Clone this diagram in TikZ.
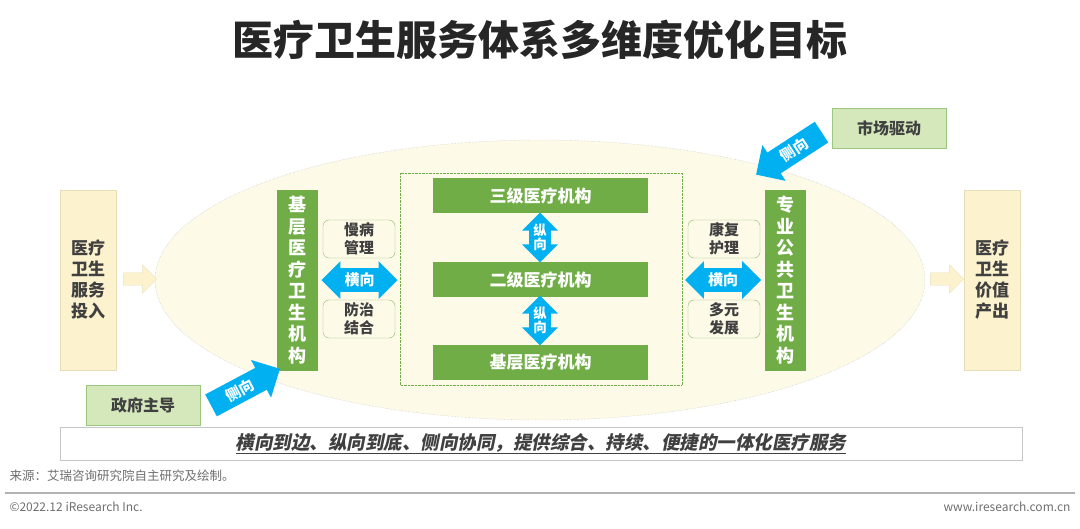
\documentclass[tikz,border=0pt]{standalone}
\usepackage{fontspec}
\usepackage{xcolor}
\usepackage{tikz}
\usetikzlibrary{shapes.arrows,positioning}
\setmainfont{Noto Sans CJK SC}
\newfontfamily\slantfont[FakeSlant=0.2]{Noto Sans CJK SC}
\definecolor{leafgreen}{RGB}{112,173,71}
\definecolor{palegreen}{RGB}{213,232,187}
\definecolor{skyblue}{RGB}{0,176,240}
\definecolor{cream}{RGB}{252,242,205}
\definecolor{creamline}{RGB}{232,222,185}
\definecolor{paper}{RGB}{254,250,232}
\definecolor{inkgray}{RGB}{64,64,64}
\definecolor{notegray}{RGB}{110,110,110}

\begin{document}
\begin{tikzpicture}[x=1pt,y=-1pt,
  greenbar/.style={fill=leafgreen,text=white,font=\bfseries\fontsize{17}{21.5}\selectfont,inner sep=0pt,align=center},
  endbox/.style={fill=cream,draw=creamline,text=inkgray,minimum width=56,minimum height=180,inner sep=0pt,align=center,font=\bfseries\fontsize{17}{21}\selectfont},
  tagbox/.style={rounded corners=6,draw=leafgreen!80,fill=paper,text=inkgray,minimum width=72,minimum height=38,inner sep=0pt,align=center,font=\bfseries\fontsize{15}{18}\selectfont},
  drivebox/.style={fill=palegreen,draw=leafgreen!70,text=inkgray,minimum width=114,minimum height=40,font=\bfseries\fontsize{16}{18}\selectfont},
  blueway/.style={double arrow,fill=skyblue,text=white,inner sep=4.5pt,align=center,font=\bfseries\fontsize{15}{16}\selectfont},
  sidearrow/.style={single arrow,fill=skyblue,text=white,inner sep=5pt,minimum height=78,single arrow head extend=9,font=\bfseries\fontsize{15}{16}\selectfont},
  flowarrow/.style={single arrow,fill=cream,draw=creamline,minimum height=33,minimum width=28,inner sep=3pt,single arrow head extend=4}]
  \useasboundingbox (0,0) rectangle (1080,528);
  \node[font=\bfseries\fontsize{41}{44}\selectfont,text=black!85] (title) at (540,40) {医疗卫生服务体系多维度优化目标};
  \draw[fill=paper,draw=gray!55,densely dotted] (540,280) ellipse [x radius=385,y radius=140];
  \node[endbox] (input) at (88,280) {医疗\\卫生\\服务\\投入};
  \node[endbox] (output) at (992,280) {医疗\\卫生\\价值\\产出};
  \node[flowarrow] (inarrow) at (137,279) {};
  \node[flowarrow] (outarrow) at (944,279) {};
  \node[greenbar,minimum width=41,minimum height=181,font=\bfseries\fontsize{18}{21.5}\selectfont] (basic) at (297.5,280) {基\\层\\医\\疗\\卫\\生\\机\\构};
  \node[greenbar,minimum width=41,minimum height=181,font=\bfseries\fontsize{18}{21.5}\selectfont] (public) at (785.5,280) {专\\业\\公\\共\\卫\\生\\机\\构};
  \node[tagbox] (chronic) at (359,239) {慢病\\管理};
  \node[tagbox] (prevent) at (359,319) {防治\\结合};
  \node[tagbox] (rehab) at (724,239) {康复\\护理};
  \node[tagbox] (diverse) at (724,319) {多元\\发展};
  \node[blueway,minimum height=76,double arrow head extend=7] (leftway) at (359.5,280) {横向};
  \node[blueway,minimum height=76,double arrow head extend=7] (rightway) at (723,280) {横向};
  \draw[leafgreen,densely dotted] (400,173) rectangle (682,385);
  \node[greenbar,minimum width=215,minimum height=35] (third) at (540.5,195.5) {三级医疗机构};
  \node[greenbar,minimum width=215,minimum height=35] (second) at (540.5,279.5) {二级医疗机构};
  \node[greenbar,minimum width=215,minimum height=35] (base) at (540.5,362.5) {基层医疗机构};
  \node[blueway,shape border rotate=90,inner xsep=4pt,inner ysep=0pt,minimum height=42,double arrow head extend=7,font=\bfseries\fontsize{13.5}{14.5}\selectfont] (upway) at (540,237.5) {纵\\向};
  \node[blueway,shape border rotate=90,inner xsep=4pt,inner ysep=0pt,minimum height=42,double arrow head extend=7,font=\bfseries\fontsize{13.5}{14.5}\selectfont] (downway) at (540,320.5) {纵\\向};
  \node[drivebox] (gov) at (143,405) {政府主导};
  \node[drivebox] (market) at (889,128) {市场驱动};
  \node[sidearrow,rotate=28] (govarrow) at (240,390) {侧向};
  \node[sidearrow,rotate=33,shape border rotate=180] (marketarrow) at (794,150) {侧向};
  \node[draw=gray!45,fill=white,minimum width=962,minimum height=33,text=inkgray,font=\slantfont\bfseries\fontsize{18.5}{20}\selectfont] (goal) at (541,443.5) {\underline{横向到边、纵向到底、侧向协同，提供综合、持续、便捷的一体化医疗服务}};
  \node[anchor=west,text=notegray,font=\fontsize{12.5}{14}\selectfont] (source) at (6,476) {来源：艾瑞咨询研究院自主研究及绘制。};
  \draw[gray!60,line width=1.2] (5,493) -- (1075,493);
  \node[anchor=west,text=notegray,font=\fontsize{12}{14}\selectfont] (copy) at (6,507) {©2022.12 iResearch Inc.};
  \node[anchor=east,text=notegray,font=\fontsize{12}{14}\selectfont] (site) at (1074,507) {www.iresearch.com.cn};
\end{tikzpicture}
\end{document}
